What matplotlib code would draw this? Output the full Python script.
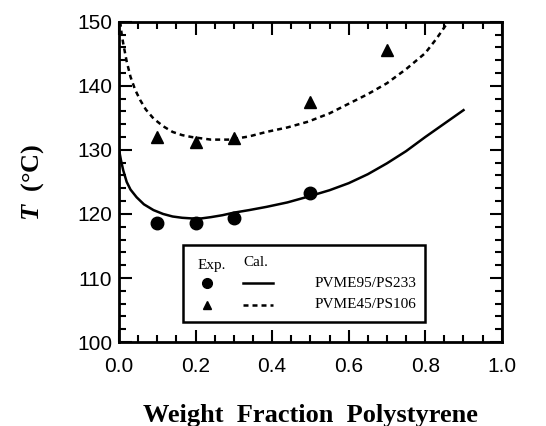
import matplotlib
matplotlib.use("Agg")
import matplotlib.pyplot as plt
from matplotlib.lines import Line2D
from matplotlib.patches import Rectangle
from matplotlib.ticker import MultipleLocator

plt.rcParams["mathtext.fontset"] = "custom"
plt.rcParams["mathtext.it"] = "Liberation Serif:italic:bold"

# experimental points
exp_x_95 = [0.1, 0.2, 0.3, 0.5]
exp_t_95 = [118.6, 118.6, 119.3, 123.3]
exp_x_45 = [0.1, 0.2, 0.3, 0.5, 0.7]
exp_t_45 = [132.0, 131.3, 131.9, 137.4, 145.6]

# calculated curves
cal_x_95 = [0.0, 0.005, 0.011, 0.02, 0.03, 0.046, 0.065, 0.09, 0.115, 0.14, 0.165,
            0.19, 0.215, 0.24, 0.27, 0.3, 0.34, 0.385, 0.44, 0.494, 0.55, 0.6,
            0.65, 0.7, 0.75, 0.8, 0.85, 0.9]
cal_t_95 = [130.0, 128.4, 126.8, 125.0, 123.8, 122.6, 121.5, 120.6, 120.0, 119.6,
            119.4, 119.3, 119.3, 119.5, 119.8, 120.2, 120.6, 121.1, 121.8, 122.7,
            123.7, 124.8, 126.2, 127.9, 129.8, 132.0, 134.1, 136.2]
cal_x_45 = [0.003, 0.007, 0.011, 0.02, 0.03, 0.042, 0.055, 0.07, 0.09, 0.115,
            0.14, 0.165, 0.19, 0.24, 0.29, 0.34, 0.385, 0.44, 0.494, 0.55, 0.6,
            0.65, 0.7, 0.75, 0.8, 0.83, 0.86]
cal_t_45 = [150.0, 148.0, 146.6, 143.8, 141.4, 139.4, 137.8, 136.3, 134.9, 133.7,
            132.8, 132.3, 132.0, 131.6, 131.6, 132.1, 132.8, 133.5, 134.4, 135.7,
            137.2, 138.7, 140.4, 142.6, 145.1, 147.4, 150.0]

labels = ["PVME95/PS233", "PVME45/PS106"]

fig = plt.figure(figsize=(5.46, 4.26), dpi=100)
ax = fig.add_axes([0.218, 0.197, 0.701, 0.752])

ax.plot(cal_x_95, cal_t_95, color="black", linewidth=1.8)
ax.plot(cal_x_45, cal_t_45, color="black", linewidth=1.8, linestyle=(0, (2.0, 1.6)))
ax.plot(exp_x_95, exp_t_95, "o", color="black", markersize=9)
ax.plot(exp_x_45, exp_t_45, "^", color="black", markersize=8)

ax.set_xlim(0.0, 1.0)
ax.set_ylim(100, 150)
ax.xaxis.set_major_locator(MultipleLocator(0.2))
ax.xaxis.set_minor_locator(MultipleLocator(0.05))
ax.yaxis.set_major_locator(MultipleLocator(10))
ax.yaxis.set_minor_locator(MultipleLocator(2))
ax.tick_params(which="both", direction="in", top=True, right=True, width=1.5)
ax.tick_params(which="major", length=9, labelsize=15)
ax.tick_params(axis="x", which="major", pad=11)
ax.tick_params(axis="y", which="major", pad=5)
ax.tick_params(which="minor", length=5)
for sp in ax.spines.values():
    sp.set_linewidth(2)
for lab in ax.get_xticklabels() + ax.get_yticklabels():
    lab.set_family("Liberation Sans")

ax.set_xlabel("Weight  Fraction  Polystyrene", family="Liberation Serif",
              fontweight="bold", fontsize=19, labelpad=20)
ax.set_ylabel(r"$\mathit{T}$  (°C)", family="Liberation Serif",
              fontweight="bold", fontsize=19, labelpad=22)

# hand-made legend box
ax.add_patch(Rectangle((0.167, 0.0625), 0.632, 0.2405, transform=ax.transAxes,
                       facecolor="white", edgecolor="black", linewidth=1.8, zorder=5))
tk = dict(transform=ax.transAxes, family="Liberation Serif", fontsize=11, zorder=6)
ax.text(0.243, 0.24, "Exp.", ha="center", va="center", **tk)
ax.text(0.358, 0.248, "Cal.", ha="center", va="center", **tk)
ax.add_line(Line2D([0.230], [0.184], marker="o", color="black", markersize=7,
                   transform=ax.transAxes, zorder=6))
ax.add_line(Line2D([0.230], [0.116], marker="^", color="black", markersize=6,
                   transform=ax.transAxes, zorder=6))
ax.add_line(Line2D([0.324, 0.402], [0.184, 0.184], color="black", linewidth=1.8,
                   transform=ax.transAxes, zorder=6))
ax.add_line(Line2D([0.324, 0.402], [0.116, 0.116], color="black", linewidth=1.8,
                   linestyle=(0, (2.0, 1.6)), transform=ax.transAxes, zorder=6))
ax.text(0.778, 0.184, labels[0], ha="right", va="center", **tk)
ax.text(0.778, 0.116, labels[1], ha="right", va="center", **tk)

fig.savefig("out.png", dpi=100)
